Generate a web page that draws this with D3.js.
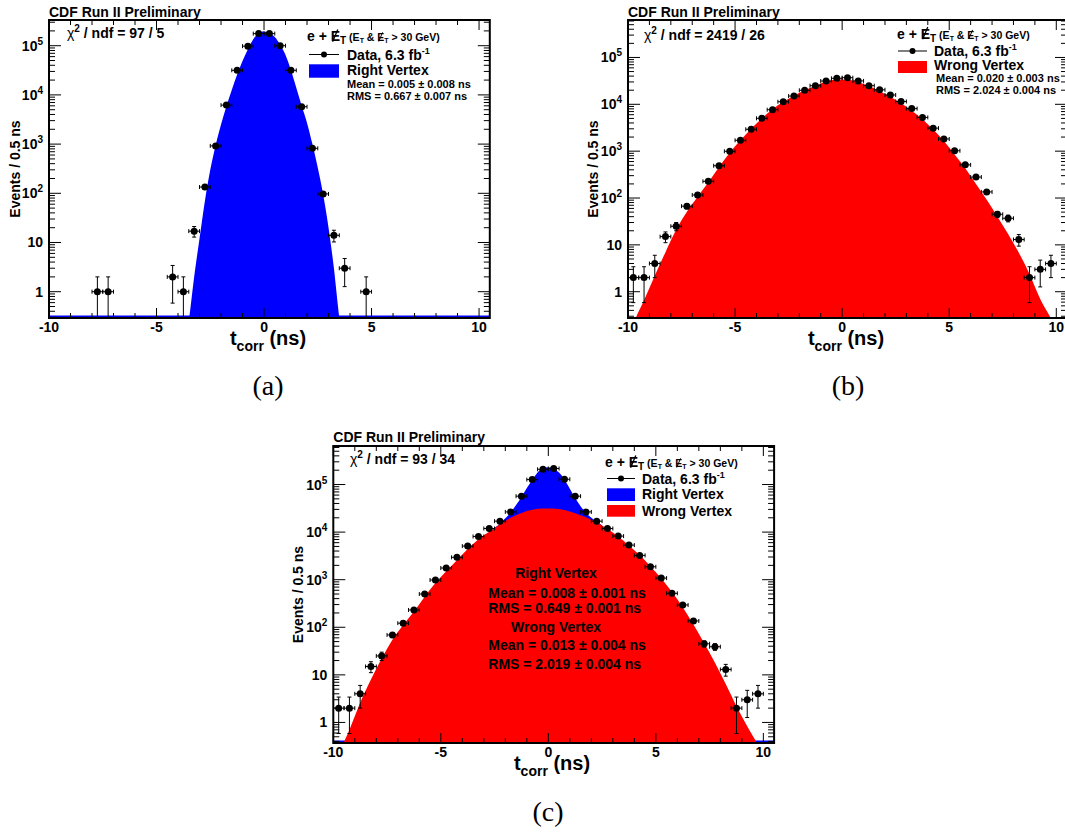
<!DOCTYPE html>
<html>
<head>
<meta charset="utf-8">
<script src="https://cdn.jsdelivr.net/npm/d3@7"></script>
<style>
  body { margin: 0; background: #fff; }
  svg { display: block; font-family: "Liberation Sans", Arial, Helvetica, sans-serif; }
  text { white-space: pre; }
</style>
</head>
<body>
<svg id="fig" width="1065" height="832"></svg>
<script>
// --- data ------------------------------------------------------------------
// bin centres of the 0.5 ns histogram
const binCenters = [-9.75, -9.25, -8.75, -8.25, -7.75, -7.25, -6.75, -6.25, -5.75, -5.25,
                    -4.75, -4.25, -3.75, -3.25, -2.75, -2.25, -1.75, -1.25, -0.75, -0.25,
                    0.25, 0.75, 1.25, 1.75, 2.25, 2.75, 3.25, 3.75, 4.25, 4.75,
                    5.25, 5.75, 6.25, 6.75, 7.25, 7.75, 8.25, 8.75, 9.25, 9.75];

// events per bin (0 = empty bin, not drawn)
const countsRight = [0, 0, 0, 0, 1, 1, 0, 0, 0, 0,
                     0, 2, 1, 17, 134, 920, 6200, 31600, 98000, 176000,
                     176000, 100000, 31600, 5750, 820, 97, 14, 3, 0, 1,
                     0, 0, 0, 0, 0, 0, 0, 0, 0, 0];
const countsWrong = [2, 2, 4, 15, 25, 67, 116, 227, 489, 993,
                     1706, 2927, 5020, 7670, 11350, 15000, 19900, 24900, 31400, 35900,
                     37000, 31600, 25000, 20400, 15800, 11500, 8100, 5250, 3100, 1820,
                     1020, 510, 280, 135, 45, 37, 13, 2, 3, 4];
const countsAll = [2, 2, 4, 15, 25, 69, 122, 231, 500, 985,
                   1760, 2950, 5080, 8100, 11900, 17000, 26600, 56900, 127000, 209000,
                   217000, 129000, 56900, 26600, 17000, 11900, 8240, 5330, 3240, 1870,
                   1080, 518, 294, 136, 45, 39, 13, 2, 3, 4];

// right-vertex template (panel a)
const rightShapeX = [-3.75, -3.5, -3.25, -3, -2.75, -2.5, -2.25, -2, -1.75, -1.5, -1.25, -1, -0.75, -0.5, -0.25, 0,
                     0.25, 0.5, 0.75, 1, 1.25, 1.5, 1.75, 2, 2.25, 2.5, 2.75, 3, 3.25, 3.5, 3.75];
const rightShapeA = [0.05, 0.25, 2, 12, 70, 300, 950, 2500, 5900, 12600, 26000, 49000, 85000, 135000, 180000, 195000,
                     182000, 150000, 105000, 65000, 32000, 14000, 6000, 2700, 1000, 330, 95, 20, 3, 0.3, 0.05];

// wrong-vertex templates (panels b and c)
const wrongShapeX = [-10, -9.75, -9.25, -8.75, -8.25, -7.75, -7.25, -6.75, -6.25, -5.75, -5.25,
                     -4.75, -4.25, -3.75, -3.25, -2.75, -2.25, -1.75, -1.25, -0.75, -0.25,
                     0.25, 0.75, 1.25, 1.75, 2.25, 2.75, 3.25, 3.75, 4.25, 4.75,
                     5.25, 5.75, 6.25, 6.75, 7.25, 7.75, 8.25, 8.75, 9.25, 9.75, 10.25];
const wrongShapeB = [0.08, 0.2, 0.66, 2.2, 7, 21, 51, 107, 215, 460, 930,
                     1700, 3000, 5000, 7800, 11300, 15300, 20000, 25000, 30500, 34000,
                     33500, 30000, 24500, 19000, 14500, 10500, 7300, 4800, 2900, 1650,
                     850, 430, 200, 92, 40, 17, 6.8, 2.4, 0.7, 0.27, 0.1];
const wrongShapeC = [0.08, 0.2, 0.7, 2.6, 8, 22, 55, 112, 215, 440, 850,
                     1500, 2550, 4400, 7100, 10200, 14700, 20000, 25300, 29500, 31300,
                     31300, 29000, 25000, 20500, 16000, 11800, 8100, 5250, 3300, 1900,
                     1070, 550, 265, 115, 46, 18, 6.4, 2.2, 0.83, 0.33, 0.1];

// right + wrong stacked envelope in panel c
const stackX = [-2.5, -2.25, -2, -1.75, -1.5, -1.25, -1, -0.75, -0.5, -0.25, 0,
                0.25, 0.5, 0.75, 1, 1.25, 1.5, 1.75, 2, 2.25, 2.5];
const stackTopC = [12300, 15000, 19500, 26000, 37000, 55000, 85000, 125000, 180000, 220000, 232000,
                   218000, 178000, 128000, 82000, 52000, 35000, 25500, 20000, 16500, 14000];

const xTickLabels = [-10, -5, 0, 5, 10];
const decadeExps = [0, 1, 2, 3, 4, 5];

const chi2Texts = ["97 / 5", "2419 / 26", "93 / 34"];
const statsRight = ["Mean = 0.005 \u00b1 0.008 ns", "RMS = 0.667 \u00b1 0.007 ns"];
const statsWrong = ["Mean = 0.020 \u00b1 0.003 ns", "RMS = 2.024 \u00b1 0.004 ns"];
const statsCombRight = ["Mean = 0.008 \u00b1 0.001 ns", "RMS = 0.649 \u00b1 0.001 ns"];
const statsCombWrong = ["Mean = 0.013 \u00b1 0.004 ns", "RMS = 2.019 \u00b1 0.004 ns"];

const BLUE = "#0000ff", RED = "#ff0000";

// --- layout ----------------------------------------------------------------
const panels = [
  {
    left: 49, right: 489.8, top: 20, bottom: 318, yMin: 0.292, yMax: 3.33e5,
    counts: countsRight, caption: "(a)", capX: 268, capY: 395,
    fills: [{ xs: rightShapeX, vs: rightShapeA, color: BLUE }], bottomLine: BLUE,
    chi2: chi2Texts[0], chiX: 67, chiY: 38, titleY: 16.5, yTitleX: 20, xTitleX: 268, xTitleY: 344.5,
    leg: { hx: 307, hy: 41, sx0: 309, sx1: 339, tx: 347, dataY: 54.5, dataB: 59.5,
           boxes: [{ color: BLUE, label: "Right Vertex", top: 64.3, h: 13.4, base: 74.5 }],
           stats: statsRight, stX: 347, stY: [88, 99.5] }
  },
  {
    // right edge of this pad falls just outside the picture, as in the original
    left: 628, right: 1067, top: 20, bottom: 318, yMin: 0.275, yMax: 6.3e5,
    counts: countsWrong, caption: "(b)", capX: 848, capY: 395,
    fills: [{ xs: wrongShapeX, vs: wrongShapeB, color: RED }], bottomLine: null,
    chi2: chi2Texts[1], chiX: 644, chiY: 40, titleY: 16.5, yTitleX: 598, xTitleX: 846, xTitleY: 344.5,
    leg: { hx: 897, hy: 38.5, sx0: 898, sx1: 927, tx: 934, dataY: 51, dataB: 56,
           boxes: [{ color: RED, label: "Wrong Vertex", top: 61, h: 12, base: 69.5 }],
           stats: statsWrong, stX: 936, stY: [82, 93.5] }
  },
  {
    left: 333.3, right: 774.1, top: 446, bottom: 743, yMin: 0.37, yMax: 6.45e5,
    counts: countsAll, caption: "(c)", capX: 548, capY: 821,
    fills: [{ xs: stackX, vs: stackTopC, color: BLUE }, { xs: wrongShapeX, vs: wrongShapeC, color: RED }],
    bottomLine: BLUE,
    chi2: chi2Texts[2], chiX: 350, chiY: 463.5, titleY: 442.3, yTitleX: 303, xTitleX: 552, xTitleY: 770,
    leg: { hx: 605, hy: 467, sx0: 607, sx1: 635, tx: 642, dataY: 478.5, dataB: 483.5,
           boxes: [{ color: BLUE, label: "Right Vertex", top: 488.3, h: 12.7, base: 499 },
                   { color: RED, label: "Wrong Vertex", top: 505, h: 11.7, base: 515.5 }],
           stats: null },
    center: { x: 556, left: 488.3,
              blocks: [{ title: "Right Vertex", ty: 578, lines: statsCombRight, ly: [598, 612.5] },
                       { title: "Wrong Vertex", ty: 632, lines: statsCombWrong, ly: [650, 668.5] }] }
  }
];

const svg = d3.select("#fig");
svg.append("rect").attr("width", 1065).attr("height", 832).attr("fill", "#fff");

function drawHeader(g, x0, y0) {
  const t = g.append("text").attr("x", x0).attr("y", y0)
    .attr("font-weight", "bold").attr("font-size", 14).attr("fill", "#000");
  t.append("tspan").text("e + ");
  const e1 = t.append("tspan").text("E");
  t.append("tspan").attr("font-size", 10).attr("dy", 3).text("T");
  t.append("tspan").attr("font-size", 10.5).attr("dy", -3).text(" (E");
  t.append("tspan").attr("font-size", 7).attr("dy", 2).text("T");
  t.append("tspan").attr("font-size", 10.5).attr("dy", -2).text(" & ");
  const e2 = t.append("tspan").attr("font-size", 10.5).text("E");
  t.append("tspan").attr("font-size", 7).attr("dy", 2).text("T");
  t.append("tspan").attr("font-size", 10.5).attr("dy", -2).text(" > 30 GeV)");
  // slashed E for missing transverse energy
  [[e1, 14, 1.3], [e2, 10.5, 1]].forEach(([s, fs, sw]) => {
    const node = s.node();
    const p0 = node.getStartPositionOfChar(0);
    const w = node.getComputedTextLength();
    g.append("line")
      .attr("x1", p0.x + 0.2 * w).attr("y1", p0.y + 0.05 * fs)
      .attr("x2", p0.x + 0.75 * w).attr("y2", p0.y - 0.82 * fs)
      .attr("stroke", "#000").attr("stroke-width", sw);
  });
}

function drawPanel(p, i) {
  const g = svg.append("g");
  const x = d3.scaleLinear().domain([-10, 10.5]).range([p.left, p.right]);
  const y = d3.scaleLog().domain([p.yMin, p.yMax]).range([p.bottom, p.top]);

  const clipId = "clip" + i;
  g.append("clipPath").attr("id", clipId).append("rect")
    .attr("x", p.left).attr("y", p.top)
    .attr("width", p.right - p.left).attr("height", p.bottom - p.top);
  const plot = g.append("g").attr("clip-path", `url(#${clipId})`);

  if (p.bottomLine) {
    plot.append("line").attr("x1", x(-10)).attr("x2", x(10.5))
      .attr("y1", p.bottom - 1.5).attr("y2", p.bottom - 1.5)
      .attr("stroke", p.bottomLine).attr("stroke-width", 2);
  }

  const area = d3.area()
    .x(d => x(d[0]))
    .y0(p.bottom)
    .y1(d => y(Math.max(d[1], 1e-3)))
    .curve(d3.curveMonotoneX);
  p.fills.forEach(f => {
    plot.append("path").datum(d3.zip(f.xs, f.vs))
      .attr("d", area).attr("fill", f.color);
  });

  // data points with error bars
  const pts = binCenters.map((c, k) => ({ c, n: p.counts[k] })).filter(d => d.n > 0);
  const eb = plot.append("g").attr("stroke", "#000").attr("stroke-width", 1);
  pts.forEach(d => {
    const cx = x(d.c), cy = y(d.n);
    const xl = x(d.c - 0.25), xr = x(d.c + 0.25);
    const s = Math.sqrt(d.n);
    const yt = y(d.n + s);
    const yb = d.n - s > 0 ? y(d.n - s) : p.bottom + 5;
    eb.append("line").attr("x1", xl).attr("x2", xr).attr("y1", cy).attr("y2", cy);
    eb.append("line").attr("x1", xl).attr("x2", xl).attr("y1", cy - 2).attr("y2", cy + 2);
    eb.append("line").attr("x1", xr).attr("x2", xr).attr("y1", cy - 2).attr("y2", cy + 2);
    eb.append("line").attr("x1", cx).attr("x2", cx).attr("y1", yt).attr("y2", yb);
    eb.append("line").attr("x1", cx - 2).attr("x2", cx + 2).attr("y1", yt).attr("y2", yt);
    if (d.n - s > 0) {
      eb.append("line").attr("x1", cx - 2).attr("x2", cx + 2).attr("y1", yb).attr("y2", yb);
    }
  });
  plot.append("g").selectAll("circle").data(pts).join("circle")
    .attr("cx", d => x(d.c)).attr("cy", d => y(d.n)).attr("r", 3.5).attr("fill", "#000");

  // ticks on all four sides
  const tk = g.append("g").attr("stroke", "#000").attr("stroke-width", 1);
  d3.range(-10, 11, 1).forEach(v => {
    const len = v % 5 === 0 ? 10 : 5;
    const px = x(v);
    tk.append("line").attr("x1", px).attr("x2", px).attr("y1", p.bottom).attr("y2", p.bottom - len);
    tk.append("line").attr("x1", px).attr("x2", px).attr("y1", p.top).attr("y2", p.top + len);
  });
  const eLo = Math.floor(Math.log10(p.yMin)), eHi = Math.ceil(Math.log10(p.yMax));
  d3.range(eLo, eHi + 1).forEach(e => {
    d3.range(1, 10).forEach(m => {
      const v = m * Math.pow(10, e);
      if (v < p.yMin || v > p.yMax) return;
      const len = m === 1 ? 12 : 6;
      const py = y(v);
      tk.append("line").attr("x1", p.left).attr("x2", p.left + len).attr("y1", py).attr("y2", py);
      tk.append("line").attr("x1", p.right).attr("x2", p.right - len).attr("y1", py).attr("y2", py);
    });
  });

  // frame
  g.append("rect").attr("x", p.left).attr("y", p.top)
    .attr("width", p.right - p.left).attr("height", p.bottom - p.top)
    .attr("fill", "none").attr("stroke", "#000").attr("stroke-width", 2);

  // tick labels
  const lab = g.append("g").attr("font-weight", "bold").attr("font-size", 14).attr("fill", "#000");
  xTickLabels.forEach(v => {
    lab.append("text").attr("x", x(v)).attr("y", p.bottom + 14)
      .attr("text-anchor", "middle").text(v);
  });
  decadeExps.forEach(e => {
    const t = lab.append("text").attr("x", p.left - 6).attr("y", y(Math.pow(10, e)) + 5)
      .attr("text-anchor", "end");
    if (e === 0) t.text("1");
    else if (e === 1) t.text("10");
    else {
      t.append("tspan").text("10");
      t.append("tspan").attr("font-size", 10).attr("dy", -6).text(e);
    }
  });

  // axis titles
  const xt = g.append("text").attr("x", p.xTitleX).attr("y", p.xTitleY)
    .attr("text-anchor", "middle").attr("font-weight", "bold").attr("font-size", 20);
  xt.append("tspan").text("t");
  xt.append("tspan").attr("font-size", 14).attr("dy", 6).text("corr");
  xt.append("tspan").attr("dy", -6).text(" (ns)");

  g.append("text")
    .attr("transform", `translate(${p.yTitleX},${(p.top + p.bottom) / 2}) rotate(-90)`)
    .attr("text-anchor", "middle").attr("font-weight", "bold").attr("font-size", 14)
    .text("Events / 0.5 ns");

  // pad title
  g.append("text").attr("x", p.left).attr("y", p.titleY)
    .attr("font-weight", "bold").attr("font-size", 14).text("CDF Run II Preliminary");

  // chi2
  const ch = g.append("text").attr("x", p.chiX).attr("y", p.chiY)
    .attr("font-weight", "bold").attr("font-size", 14);
  ch.append("tspan").attr("font-weight", "normal").text("\u03c7");
  ch.append("tspan").attr("font-size", 10).attr("dy", -6).text("2");
  ch.append("tspan").attr("dy", 6).text(" / ndf = " + p.chi2);

  // legend
  const L = p.leg;
  const lg = g.append("g");
  drawHeader(lg, L.hx, L.hy);
  lg.append("line").attr("x1", L.sx0).attr("x2", L.sx1).attr("y1", L.dataY).attr("y2", L.dataY)
    .attr("stroke", "#000").attr("stroke-width", 1);
  lg.append("circle").attr("cx", (L.sx0 + L.sx1) / 2).attr("cy", L.dataY).attr("r", 3).attr("fill", "#000");
  const dt = lg.append("text").attr("x", L.tx).attr("y", L.dataB)
    .attr("font-weight", "bold").attr("font-size", 14);
  dt.append("tspan").text("Data, 6.3 fb");
  dt.append("tspan").attr("font-size", 9).attr("dy", -6).text("-1");
  L.boxes.forEach(b => {
    lg.append("rect").attr("x", L.sx0).attr("y", b.top).attr("width", L.sx1 - L.sx0).attr("height", b.h)
      .attr("fill", b.color);
    lg.append("text").attr("x", L.tx).attr("y", b.base)
      .attr("font-weight", "bold").attr("font-size", 14).text(b.label);
  });
  if (L.stats) {
    L.stats.forEach((s, k) => {
      lg.append("text").attr("x", L.stX).attr("y", L.stY[k])
        .attr("font-weight", "bold").attr("font-size", 11).text(s);
    });
  }

  // fit summary in the middle of panel c
  if (p.center) {
    const c = p.center;
    c.blocks.forEach(b => {
      g.append("text").attr("x", c.x).attr("y", b.ty).attr("text-anchor", "middle")
        .attr("font-weight", "bold").attr("font-size", 14).text(b.title);
      b.lines.forEach((s, k) => {
        g.append("text").attr("x", c.left).attr("y", b.ly[k])
          .attr("font-weight", "bold").attr("font-size", 14).text(s);
      });
    });
  }

  // sub-figure caption
  svg.append("text").attr("x", p.capX).attr("y", p.capY).attr("text-anchor", "middle")
    .attr("font-family", "'Liberation Serif', 'DejaVu Serif', serif").attr("font-size", 28)
    .text(p.caption);
}

panels.forEach(drawPanel);
</script>
</body>
</html>
